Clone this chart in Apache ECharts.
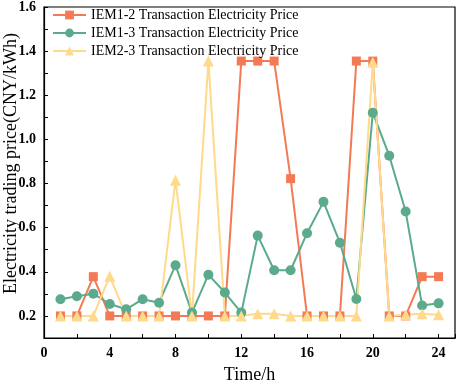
<!DOCTYPE html>
<html>
<head>
<meta charset="utf-8">
<script src="https://cdn.jsdelivr.net/npm/echarts@6/dist/echarts.min.js"></script>
<style>
  html, body { margin: 0; padding: 0; background: #fff; }
  #chart { width: 457px; height: 384px; }
</style>
</head>
<body>
<div id="chart"></div>
<script>
// hours 1..24
var hours = [1,2,3,4,5,6,7,8,9,10,11,12,13,14,15,16,17,18,19,20,21,22,23,24];
var iem12 = [0.2,0.2,0.378,0.2,0.2,0.2,0.2,0.2,0.2,0.2,0.2,1.355,1.355,1.355,0.822,0.2,0.2,0.2,1.355,1.355,0.2,0.2,0.378,0.378];
var iem13 = [0.276,0.289,0.301,0.254,0.23,0.276,0.26,0.43,0.215,0.387,0.306,0.215,0.564,0.407,0.407,0.575,0.717,0.532,0.277,1.121,0.926,0.673,0.247,0.257];
var iem23 = [0.2,0.2,0.2,0.38,0.2,0.2,0.2,0.815,0.2,1.355,0.2,0.2,0.21,0.21,0.2,0.2,0.2,0.2,0.2,1.35,0.2,0.205,0.21,0.205];
var seriesNames = ['IEM1-2 Transaction Electricity Price', 'IEM1-3 Transaction Electricity Price', 'IEM2-3 Transaction Electricity Price'];

function pairs(arr) {
    return hours.map(function (h, i) { return [h, arr[i]]; });
}

var chart = echarts.init(document.getElementById('chart'));
var font = '"Liberation Serif", "Times New Roman", serif';

chart.setOption({
    animation: false,
    color: ['#F47A55', '#5BAA8B', '#FFD98C'],
    textStyle: { fontFamily: font },
    legend: {
        data: seriesNames,
        orient: 'vertical',
        left: 47,
        top: 3,
        itemWidth: 33,
        itemHeight: 11,
        itemGap: 4,
        textStyle: { fontFamily: font, fontSize: 14, color: '#000' }
    },
    grid: {
        left: 44,
        right: 2,
        top: 7,
        bottom: 46,
        outerBoundsMode: 'none',
        containLabel: false,
        show: true,
        borderColor: '#000',
        borderWidth: 1.2
    },
    xAxis: {
        type: 'value',
        min: 0,
        max: 25,
        interval: 2,
        name: 'Time/h',
        nameLocation: 'middle',
        nameGap: 28,
        nameMoveOverlap: false,
        nameTextStyle: { fontFamily: font, fontSize: 18, color: '#000' },
        axisLine: { lineStyle: { color: '#000', width: 1.2 } },
        axisTick: { inside: true, length: 4, lineStyle: { color: '#000' } },
        splitLine: { show: false },
        axisLabel: {
            color: '#000',
            fontFamily: font,
            fontWeight: 'bold',
            fontSize: 14,
            margin: 8,
            formatter: function (v) { return (v % 4 === 0 && v <= 24) ? String(v) : ''; }
        }
    },
    yAxis: {
        type: 'value',
        min: 0.1,
        max: 1.6,
        interval: 0.1,
        name: 'Electricity trading price(CNY/kWh)',
        nameLocation: 'middle',
        nameGap: 24,
        nameMoveOverlap: false,
        nameTextStyle: { fontFamily: font, fontSize: 18, color: '#000', padding: [0, 0, 0, 18] },
        axisLine: { show: true, lineStyle: { color: '#000', width: 1.2 } },
        axisTick: { show: true, inside: true, length: 4, lineStyle: { color: '#000' } },
        splitLine: { show: false },
        axisLabel: {
            color: '#000',
            fontFamily: font,
            fontWeight: 'bold',
            fontSize: 14,
            margin: 8,
            formatter: function (v) {
                var k = Math.round(v * 10);
                return k % 2 === 0 ? (k / 10).toFixed(1) : '';
            }
        }
    },
    series: [
        {
            name: seriesNames[0],
            type: 'line',
            symbol: 'rect',
            symbolSize: 9,
            lineStyle: { width: 2 },
            data: pairs(iem12)
        },
        {
            name: seriesNames[1],
            type: 'line',
            symbol: 'circle',
            symbolSize: 10,
            lineStyle: { width: 2 },
            data: pairs(iem13)
        },
        {
            name: seriesNames[2],
            type: 'line',
            symbol: 'triangle',
            symbolSize: 11,
            lineStyle: { width: 2 },
            data: pairs(iem23)
        }
    ]
});
</script>
</body>
</html>
